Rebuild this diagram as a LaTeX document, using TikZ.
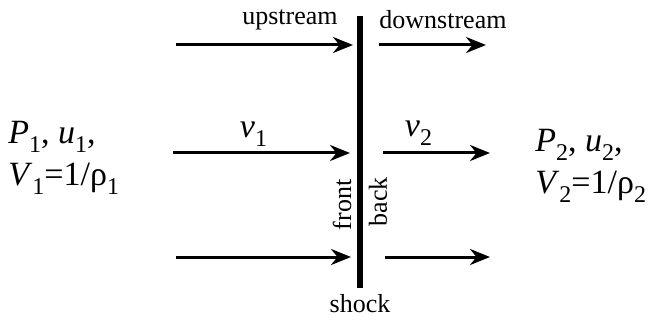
\documentclass[tikz,border=0pt]{standalone}
\usepackage{fontspec}
\setmainfont{Liberation Serif}
\usetikzlibrary{arrows.meta,positioning,calc}
\newcommand{\lo}[1]{\raisebox{-0.55ex}{\fontsize{12}{12}\selectfont #1}}

\begin{document}
\begin{tikzpicture}[x=0.5pt,y=-0.5pt,>={Stealth[length=10pt,width=8pt]},
 every node/.style={font=\fontsize{13}{14}\selectfont,inner sep=0pt},
 flow/.style={->,line width=1.5pt},
 state/.style={font=\fontsize{17}{21}\selectfont,align=left,anchor=west}]
\useasboundingbox (0,0) rectangle (652,320);
\draw[line width=3pt] (360,16) coordinate (st) -- (360,288) coordinate (sb);
% flow lines, upstream and downstream
\coordinate (a1) at (176,45); \coordinate (a2) at (353,45);
\coordinate (b1) at (379,45); \coordinate (b2) at (486,45);
\coordinate (c1) at (173,153); \coordinate (c2) at (350,153);
\coordinate (d1) at (383,153); \coordinate (d2) at (490,153);
\coordinate (e1) at (176,257); \coordinate (e2) at (351,257);
\coordinate (f1) at (385,257); \coordinate (f2) at (490,257);
\draw[flow] (a1)--(a2);
\draw[flow] (b1)--(b2);
\draw[flow] (c1)--node[above=2.5pt,font=\fontsize{17}{20}\selectfont,xshift=-4pt]{\textit{v}\lo{1}}(c2);
\draw[flow] (d1)--node[above=3pt,font=\fontsize{17}{20}\selectfont,xshift=-9pt]{\textit{v}\lo{2}}(d2);
\draw[flow] (e1)--(e2);
\draw[flow] (f1)--(f2);
\node (up) at (290,20) {upstream};
\node (down) at (443,20) {downstream};
\node[below=3pt of sb] (shock) {shock};
\node[rotate=90] (front) at (342,205) {front};
\node[rotate=90] (back) at (378,202) {back};
\node[state] (s1) at (8,158) {\textit{P}\lo{1}, \textit{u}\lo{1},\\\textit{V}\lo{1}=1/ρ\lo{1}};
\node[state] (s2) at (535,166) {\textit{P}\lo{2}, \textit{u}\lo{2},\\\textit{V}\lo{2}=1/ρ\lo{2}};
\end{tikzpicture}
\end{document}
